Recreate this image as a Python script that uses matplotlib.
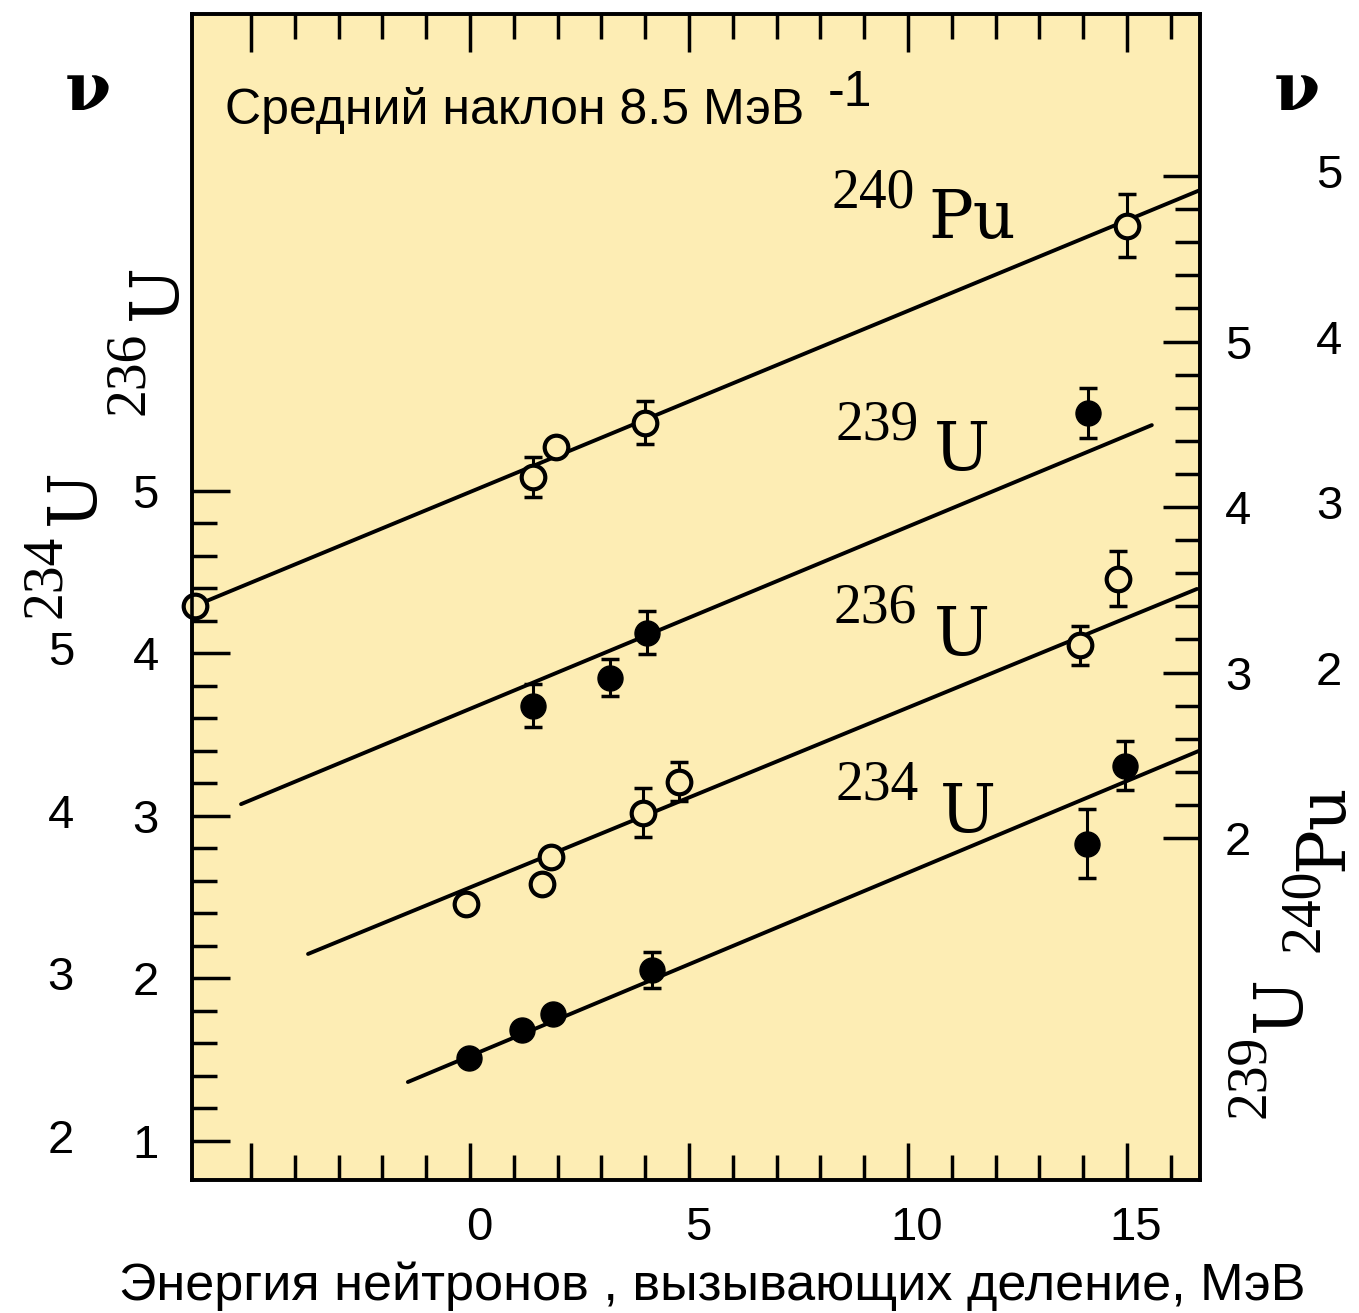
import numpy as np
import matplotlib.pyplot as plt
import matplotlib.transforms as mtransforms
from matplotlib.ticker import FixedLocator

# neutron energy (MeV) and mean number of neutrons
# 240Pu, right outer scale
pu240_e = [-6.28, 1.44, 1.96, 4.00, 15.00]
pu240_nu = [2.40, 3.18, 3.36, 3.51, 4.70]
pu240_err = [0.0, 0.12, 0.0, 0.13, 0.19]
pu240_fit_e = [-6.35, 16.67]
pu240_fit_nu = [2.396, 4.915]

# 239U, right inner scale
u239_e = [1.44, 3.20, 4.04, 14.11]
u239_nu = [2.80, 2.97, 3.24, 4.57]
u239_err = [0.13, 0.11, 0.13, 0.15]
u239_fit_e = [-5.23, 15.57]
u239_fit_nu = [2.205, 4.495]

# 236U, left inner scale
u236_e = [-0.09, 1.64, 1.85, 3.95, 4.77, 13.93, 14.79]
u236_nu = [2.46, 2.58, 2.75, 3.02, 3.21, 4.05, 4.46]
u236_err = [0.0, 0.0, 0.0, 0.15, 0.12, 0.12, 0.17]
u236_fit_e = [-3.70, 16.60]
u236_fit_nu = [2.151, 4.397]

# 234U, left outer scale
u234_e = [-0.02, 1.19, 1.89, 4.16, 14.09, 14.95]
u234_nu = [2.51, 2.68, 2.78, 3.05, 3.83, 4.31]
u234_err = [0.0, 0.0, 0.0, 0.11, 0.21, 0.15]
u234_fit_e = [-1.42, 16.64]
u234_fit_nu = [2.363, 4.40]

x_major = [-5, 0, 5, 10, 15]
x_labels = ['', '0', '5', '10', '15']
left_ticks = [1, 2, 3, 4, 5]
u236_labels = ['1', '2', '3', '4', '5']
u234_labels = ['2', '3', '4', '5']
right_ticks = [1, 2, 3, 4, 5]
u239_labels = ['2', '3', '4', '5', '']
pu240_labels = ['2', '3', '4', '5']

plt.rcParams['font.family'] = 'Liberation Sans'

W, H = 1359, 1313
bg = '#fdedb4'


def fpx(x, y):
    return x / W, 1 - y / H


fig = plt.figure(figsize=(W / 100, H / 100), dpi=100)
ax = fig.add_axes([192 / W, 1 - 1180 / H, 1008 / W, 1166 / H])
ax.set_facecolor(bg)
ax.set_xlim(-6.35, 16.67)
ax.set_ylim(0.76, 7.935)
ax2 = ax.twinx()
ax2.set_ylim(-1.066, 5.979)

for a in (ax, ax2):
    for s in a.spines.values():
        s.set_linewidth(2.6)

# x ticks, top and bottom
ax.xaxis.set_major_locator(FixedLocator(x_major))
ax.set_xticklabels(x_labels)
ax.xaxis.set_minor_locator(FixedLocator([v for v in range(-5, 17) if v not in x_major]))
ax.tick_params(axis='x', which='both', direction='in', top=True, bottom=True, width=2.5)
ax.tick_params(axis='x', which='major', length=27, pad=19, labelsize=34)
ax.tick_params(axis='x', which='minor', length=18)
shift = mtransforms.ScaledTranslation(9 / 100, 0, fig.dpi_scale_trans)
for lbl in ax.get_xticklabels():
    lbl.set_transform(lbl.get_transform() + shift)

# left scale (236U inner labels)
ax.yaxis.set_major_locator(FixedLocator(left_ticks))
ax.set_yticklabels(u236_labels)
ax.yaxis.set_minor_locator(FixedLocator([v for v in np.arange(1, 5.01, 0.2) if abs(v - round(v)) > 0.01]))
ax.tick_params(axis='y', which='both', direction='in', left=True, right=False, width=2.5)
ax.tick_params(axis='y', which='major', length=27, pad=24, labelsize=34)
ax.tick_params(axis='y', which='minor', length=18)

# right scale (239U inner labels)
ax2.yaxis.set_major_locator(FixedLocator(right_ticks))
ax2.set_yticklabels(u239_labels)
ax2.yaxis.set_minor_locator(FixedLocator([v for v in np.arange(1, 5.01, 0.2) if abs(v - round(v)) > 0.01]))
ax2.tick_params(axis='y', which='both', direction='in', left=False, right=True, width=2.5)
ax2.tick_params(axis='y', which='major', length=27, pad=18, labelsize=34)
ax2.tick_params(axis='y', which='minor', length=18)

# outer label columns
for t, lab in zip(left_ticks, u234_labels):
    ax.text(-0.117, t, lab, transform=ax.get_yaxis_transform(), ha='right', va='center', fontsize=34)
for t, lab in zip(right_ticks[1:], pu240_labels):
    ax2.text(1.115, t, lab, transform=ax2.get_yaxis_transform(), ha='left', va='center', fontsize=34)

line_kw = dict(color='black', lw=2.8, solid_capstyle='round')
err_kw = dict(fmt='none', ecolor='black', elinewidth=2.2, capsize=6.5, capthick=2.5)
open_kw = dict(ls='none', marker='o', ms=17, mfc=bg, mec='black', mew=3, clip_on=False)
fill_kw = dict(ls='none', marker='o', ms=18, mfc='black', mec='black')


def draw(a, e, nu, err, fit_e, fit_nu, kw, shift=0.0):
    e = np.array(e)
    nu = np.array(nu) - shift
    err = np.array(err)
    a.plot(fit_e, np.array(fit_nu) - shift, **line_kw)
    m = err > 0
    a.errorbar(e[m], nu[m], yerr=err[m], **err_kw)
    a.plot(e, nu, **kw)


draw(ax, u236_e, u236_nu, u236_err, u236_fit_e, u236_fit_nu, open_kw)
draw(ax, u234_e, u234_nu, u234_err, u234_fit_e, u234_fit_nu, fill_kw, shift=1)
draw(ax2, pu240_e, pu240_nu, pu240_err, pu240_fit_e, pu240_fit_nu, open_kw)
draw(ax2, u239_e, u239_nu, u239_err, u239_fit_e, u239_fit_nu, fill_kw, shift=1)

# annotations
fig.text(*fpx(225, 124), 'Средний наклон 8.5 МэВ', fontsize=36, ha='left', va='baseline')
fig.text(*fpx(828, 106), '-1', fontsize=36, ha='left', va='baseline')
fig.text(*fpx(712, 1300), 'Энергия нейтронов , вызывающих деление, МэВ',
         fontsize=37.5, ha='center', va='baseline')
fig.text(*fpx(88, 110), 'ν', fontsize=48, fontweight='bold', family='DejaVu Serif',
         ha='center', va='baseline')
fig.text(*fpx(1297, 110), 'ν', fontsize=48, fontweight='bold', family='DejaVu Serif',
         ha='center', va='baseline')

num_kw = dict(fontsize=40, family='Liberation Serif', ha='left', va='baseline')
sym_kw = dict(fontsize=48, family='DejaVu Serif', ha='left', va='baseline')

# labels next to the lines
for num, sym, nx, ny, sx, sy in [('240', 'Pu', 831, 207, 928, 238),
                                 ('239', 'U', 836, 440, 934, 470),
                                 ('236', 'U', 833, 622, 934, 655),
                                 ('234', 'U', 836, 800, 940, 832)]:
    fig.text(*fpx(nx, ny), num, **num_kw)
    fig.text(*fpx(sx, sy), sym, **sym_kw)

# rotated scale names
rot = dict(rotation=90, rotation_mode='anchor')
for num, sym, nx, ny, sx, sy in [('234', 'U', 60, 618, 94, 525),
                                 ('236', 'U', 143, 415, 176, 320),
                                 ('239', 'U', 1264, 1118, 1300, 1032),
                                 ('240', 'Pu', 1318, 952, 1342, 871)]:
    fig.text(*fpx(nx, ny), num, **num_kw, **rot)
    fig.text(*fpx(sx, sy), sym, **sym_kw, **rot)

fig.savefig('out.png', dpi=100, facecolor='white')
